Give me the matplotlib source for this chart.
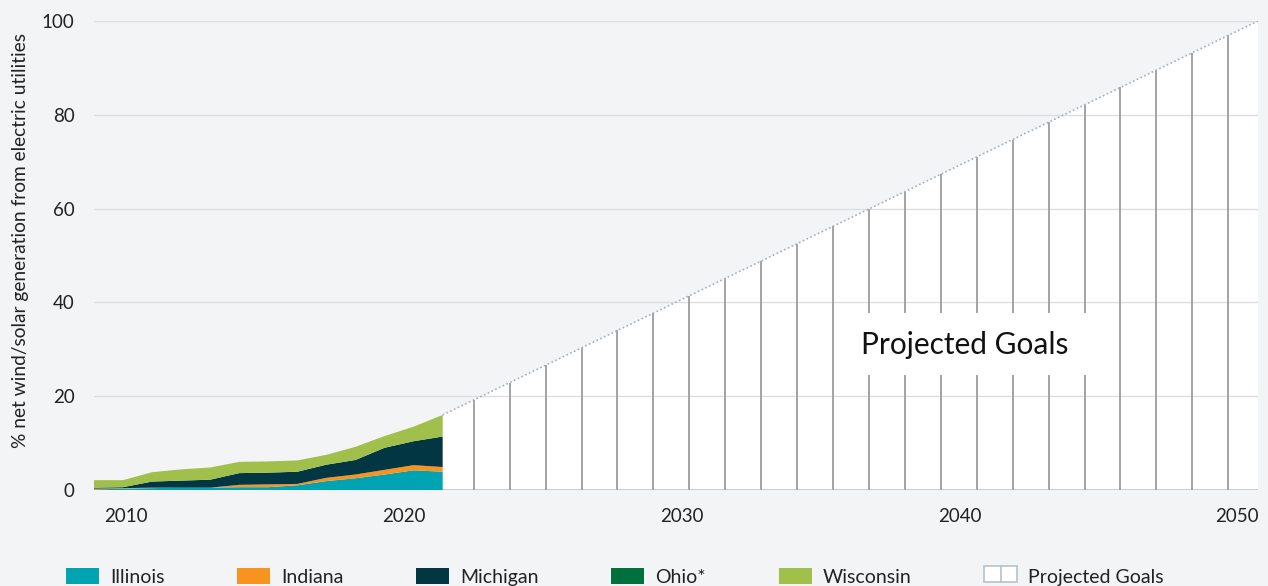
import numpy as np
import matplotlib.pyplot as plt
from matplotlib.patches import Rectangle, Polygon
from matplotlib.legend_handler import HandlerBase
from matplotlib.lines import Line2D

plt.rcParams['font.family'] = ['Lato', 'DejaVu Sans']

# --- data ---
years = np.arange(2009, 2022)
illinois = [0.1, 0.3, 0.4, 0.5, 0.5, 0.6, 0.6, 1.0, 1.9, 2.5, 3.3, 4.2, 3.9]
indiana = [0.2, 0.1, 0.1, 0.0, 0.0, 0.5, 0.6, 0.3, 0.7, 0.8, 1.0, 1.1, 1.0]
michigan = [0.2, 0.2, 1.3, 1.5, 1.7, 2.5, 2.5, 2.6, 2.8, 3.1, 4.7, 5.1, 6.5]
ohio = [0.0, 0.0, 0.0, 0.0, 0.0, 0.0, 0.0, 0.0, 0.0, 0.0, 0.0, 0.0, 0.0]
wisconsin = [1.6, 1.5, 2.0, 2.4, 2.6, 2.4, 2.4, 2.4, 2.1, 2.8, 2.5, 3.1, 4.6]

states = ['Illinois', 'Indiana', 'Michigan', 'Ohio*', 'Wisconsin']
colors = ['#00a3b1', '#f7931e', '#023642', '#00703c', '#a1c04b']

goal_start = 16.0   # projected goal at end of historical data
goal_end = 100      # 100% by 2050
n_goal_lines = 22

BG = '#f3f4f6'

# layout (x positions in year units)
x_left, x_right = 2008.85, 2050.75
hist_x = np.linspace(2008.85, 2021.4, len(years))
goal_x0 = hist_x[-1]

fig = plt.figure(figsize=(12.68, 5.86), dpi=100, facecolor=BG)
ax = fig.add_axes([94 / 1268, 1 - 490 / 586, (1258 - 94) / 1268, 469 / 586])
ax.set_facecolor(BG)

# projected goals area
poly = Polygon([(goal_x0, 0), (goal_x0, goal_start), (x_right, goal_end), (x_right, 0)],
               closed=True, facecolor='white', edgecolor='none', zorder=1)
ax.add_patch(poly)
ax.plot([goal_x0, x_right], [goal_start, goal_end], color='#9fb1be', lw=1.2,
        linestyle=(0, (1, 1.5)), zorder=4)

line_x = np.linspace(2022.52, 2049.68, n_goal_lines)
line_top = goal_start + (line_x - goal_x0) / (x_right - goal_x0) * (goal_end - goal_start)
ax.vlines(line_x, 0, line_top, color='#a3a3a3', lw=1.4, zorder=3)

# historical stacked area
ax.stackplot(hist_x, illinois, indiana, michigan, ohio, wisconsin,
             colors=colors, linewidth=0, zorder=3)

ax.axhline(0, color='#bdbdbd', lw=1.2, zorder=2)

# label box
ax.add_patch(Rectangle((2035.7, 24.5), 9.3, 13.2, facecolor='white', edgecolor='none', zorder=5))
ax.text(2040.2, 31.0, 'Projected Goals', fontsize=21.5, color='#111111',
        ha='center', va='center', zorder=6)

ax.set_xlim(x_left, x_right)
ax.set_ylim(0, 100)
ax.set_yticks([0, 20, 40, 60, 80, 100])
ax.set_xticks([2010, 2020, 2030, 2040, 2050])
ax.tick_params(length=0, labelsize=13.5, colors='#222222')
ax.tick_params(axis='y', pad=14)
ax.tick_params(axis='x', pad=13)
ax.grid(axis='y', color='#dcdee1', lw=1.0, zorder=2)
ax.set_axisbelow(False)
for s in ax.spines.values():
    s.set_visible(False)

ax.set_ylabel('% net wind/solar generation from electric utilities', fontsize=13.8, color='#222222')
ax.yaxis.set_label_coords((29 - 94) / 1164, (490 - 240) / 469)


class GoalHandler(HandlerBase):
    def create_artists(self, legend, orig, x0, y0, width, height, fontsize, trans):
        r = Rectangle((x0, y0), width, height, facecolor='white', edgecolor='#b4c3cc',
                      lw=1.2, transform=trans)
        l = Line2D([x0 + width / 2] * 2, [y0, y0 + height], color='#b4c3cc', lw=1.2,
                   transform=trans)
        return [r, l]


handles = [Rectangle((0, 0), 1, 1, facecolor=c, edgecolor='none') for c in colors]
goal_handle = Rectangle((0, 0), 1, 1)
handles.append(goal_handle)
labels = states + ['Projected Goals']
leg = fig.legend(handles, labels, loc='center left', bbox_to_anchor=(66 / 1268, 1 - 577 / 586),
                 ncol=6, frameon=False, fontsize=14, handlelength=1.7, handleheight=0.85,
                 handletextpad=0.55, columnspacing=3.75, borderpad=0, borderaxespad=0,
                 handler_map={goal_handle: GoalHandler()})
for t in leg.get_texts():
    t.set_color('#222222')

fig.savefig('out.png', dpi=100, facecolor=BG)
